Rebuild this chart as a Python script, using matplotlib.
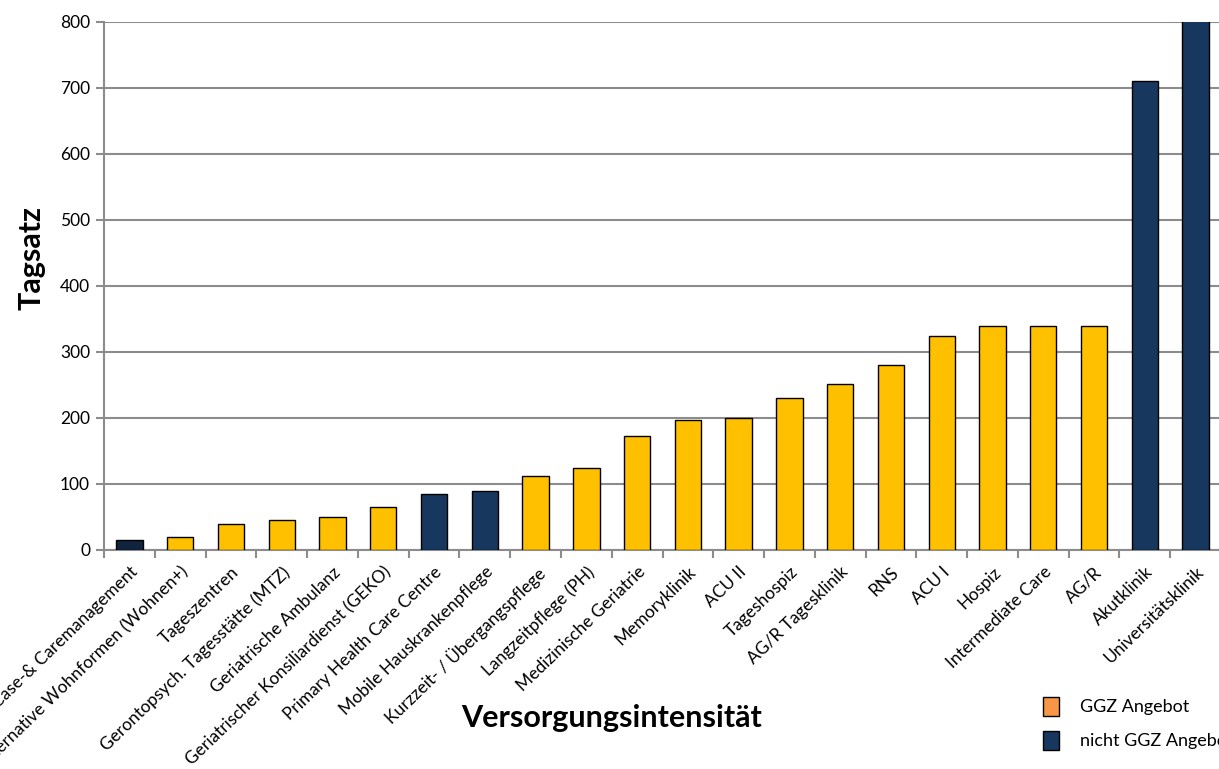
import matplotlib.pyplot as plt
import matplotlib.patches as mpatches
import numpy as np

# Daten
kategorien = ["Case-& Caremanagement", "Alternative Wohnformen (Wohnen+)", "Tageszentren",
              "Gerontopsych. Tagesstätte (MTZ)", "Geriatrische Ambulanz",
              "Geriatrischer Konsiliardienst (GEKO)", "Primary Health Care Centre",
              "Mobile Hauskrankenpflege", "Kurzzeit- / Übergangspflege", "Langzeitpflege (PH)",
              "Medizinische Geriatrie", "Memoryklinik", "ACU II", "Tageshospiz",
              "AG/R Tagesklinik", "RNS", "ACU I", "Hospiz", "Intermediate Care", "AG/R",
              "Akutklinik", "Universitätsklinik"]
tagsatz = [15, 20, 40, 45, 50, 65, 85, 90, 112, 124, 173, 197, 200, 230, 251, 280,
           325, 339, 340, 340, 710, 900]
ggz = [0, 1, 1, 1, 1, 1, 0, 0, 1, 1, 1, 1, 1, 1, 1, 1, 1, 1, 1, 1, 0, 0]

gelb = "#FFC000"
navy = "#17375E"
farben = [gelb if g else navy for g in ggz]
farben[0] = "#10243F"

plt.rcParams['font.family'] = ['Lato', 'DejaVu Sans']

fig = plt.figure(figsize=(12.19, 7.69), dpi=100)
ax = fig.add_axes([104/1219, 1 - 550/769, 1117/1219, 528/769])

x = np.arange(len(kategorien))
ax.bar(x, tagsatz, width=0.52, color=farben, edgecolor="black", linewidth=1.0, zorder=3)

ax.set_ylim(0, 800)
ax.set_xlim(-0.5, len(kategorien) - 0.5)
ax.set_yticks(np.arange(0, 801, 100))
ax.yaxis.grid(True, color="#8C8C8C", linewidth=1.5, zorder=0)
ax.tick_params(axis="y", length=6, width=1.5, color="#8C8C8C", labelsize=12.5, pad=4)

ax.set_xticks(x)
ax.set_xticklabels(kategorien, rotation=44, ha="right", rotation_mode="anchor", fontsize=12.5)
ax.tick_params(axis="x", length=0, pad=10)
ax.set_xticks(np.arange(-0.5, len(kategorien), 1), minor=True)
ax.tick_params(axis="x", which="minor", length=6, width=1.5, color="#8C8C8C")

for s in ["top", "right"]:
    ax.spines[s].set_visible(False)
for s in ["left", "bottom"]:
    ax.spines[s].set_color("#8C8C8C")
    ax.spines[s].set_linewidth(1.5)

fig.text(32/1219, 1 - 258/769, "Tagsatz", fontsize=22, fontweight="bold",
         rotation=90, ha="center", va="center")
fig.text(612/1219, 1 - 718/769, "Versorgungsintensität", fontsize=22, fontweight="bold",
         ha="center", va="center")

# Legende
fig.patches.append(mpatches.Rectangle((1043/1219, 1 - 716/769), 16/1219, 19/769,
                                      transform=fig.transFigure, facecolor="#F79646",
                                      edgecolor="black", linewidth=1))
fig.patches.append(mpatches.Rectangle((1043/1219, 1 - 750/769), 16/1219, 19/769,
                                      transform=fig.transFigure, facecolor=navy,
                                      edgecolor="black", linewidth=1))
fig.text(1080/1219, 1 - 707/769, "GGZ Angebot", fontsize=13, va="center")
fig.text(1080/1219, 1 - 741/769, "nicht GGZ Angebot", fontsize=13, va="center")

fig.savefig("out.png", dpi=100)
